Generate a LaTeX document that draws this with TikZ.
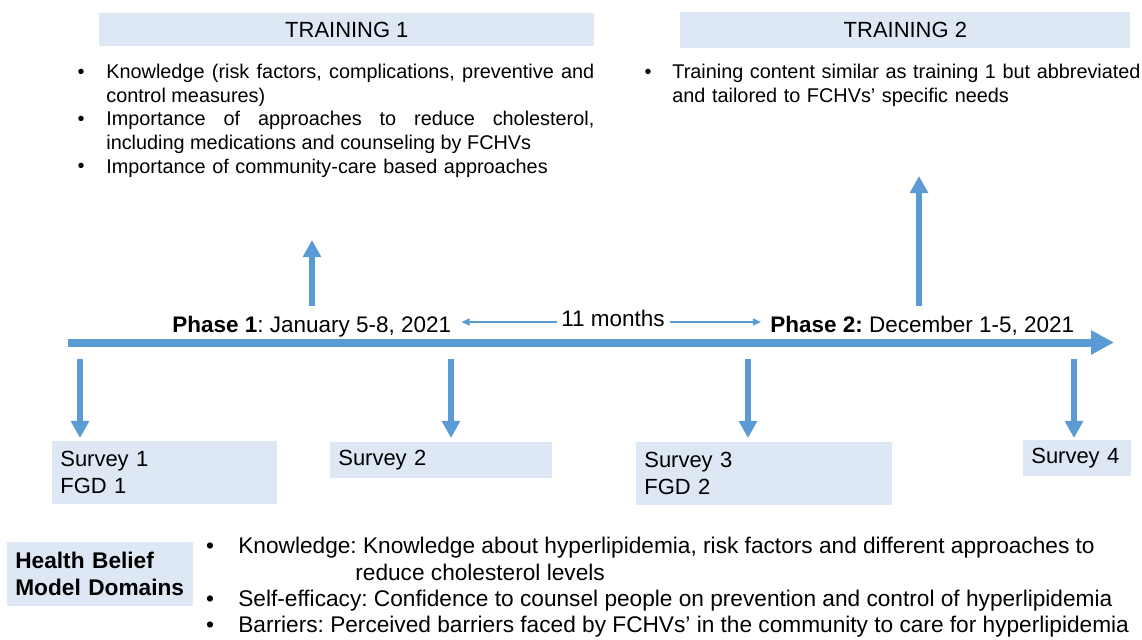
\documentclass[tikz,border=0pt]{standalone}
\usepackage{fontspec}
\setmainfont{Liberation Sans}
\usetikzlibrary{arrows.meta}
\definecolor{lineblue}{RGB}{91,155,213}
\definecolor{boxblue}{RGB}{221,232,244}
\newdimen\unitpx \unitpx=0.02cm
\hbadness=10000
\frenchspacing

\begin{document}
\begin{tikzpicture}[x=0.02cm, y=-0.02cm]

      \tikzset{panel/.style={fill=boxblue, inner sep=0pt, anchor=north west},
               header/.style={panel, font=\fontsize{12.5}{15}\selectfont},
               survey/.style={panel, font=\fontsize{12.5}{15.4}\selectfont, align=left, inner xsep=8\unitpx},
               itemtext/.style={font=\fontsize{11.3}{13.5}\selectfont, inner sep=0pt, anchor=north west},
               bulletdot/.style={font=\fontsize{11.3}{13.5}\selectfont, inner sep=0pt, anchor=base},
               phasetext/.style={font=\fontsize{12.8}{15.4}\selectfont, inner sep=0pt, anchor=base west},
               hbmtext/.style={font=\fontsize{12.9}{15.4}\selectfont, inner sep=0pt, anchor=base west},
               % arrow sizes: 1px of the layout is 0.569pt
               mainarrow/.style={-{Triangle[width=13.1pt, length=13.1pt]}, line width=4.55pt, lineblue},
               bigarrow/.style={-{Triangle[width=10pt, length=9.7pt]}, line width=3.7pt, lineblue},
               thinarrow/.style={-{Triangle[width=4pt, length=4.6pt]}, line width=0.9pt, lineblue}}
      \useasboundingbox (0,0) rectangle (1142,639);
%% Trainings
      	\node[header, minimum width=495\unitpx, minimum height=33\unitpx] (tr1) at (99,13) {TRAINING 1};
      	\node[header, minimum width=450\unitpx, minimum height=36\unitpx] (tr2) at (680,12) {TRAINING 2};

      	\node[bulletdot] (b11) at (81,78) {\textbullet};
      	\node[bulletdot] (b12) at (81,125.4) {\textbullet};
      	\node[bulletdot] (b13) at (81,172.8) {\textbullet};
      	\node[itemtext, text width=488\unitpx, align=justify] (k11) at (106,61.4)
      	  {\strut Knowledge (risk factors, complications, preventive and\linebreak control measures)};
      	\node[itemtext, text width=488\unitpx, align=justify] (k12) at (106,108.8)
      	  {\strut Importance of approaches to reduce cholesterol,\linebreak including medications and counseling by FCHVs};
      	\node[itemtext, text width=488\unitpx, align=left] (k13) at (106,156.2)
      	  {\strut Importance of community-care based approaches};

      	\node[bulletdot] (b21) at (648,78) {\textbullet};
      	\node[itemtext, text width=470\unitpx, align=left] (k21) at (672,61.4)
      	  {\strut Training content similar as training 1 but abbreviated\\ and tailored to FCHVs’ specific needs};
%% Timeline
      	\coordinate (tl0) at (68,342.5);
      	\coordinate (tl1) at (1114,342.5);
      	\coordinate (row) at (0,322);
      	\node[phasetext] (ph1) at (172,332) {\textbf{Phase 1}: January 5-8, 2021};
      	\node[phasetext] (mon) at (561,326) {11 months};
      	\node[phasetext] (ph2) at (770,332) {\textbf{Phase 2:} December 1-5, 2021};

		\draw[mainarrow] (tl0) -- (tl1);
		\draw[thinarrow, shorten <=4\unitpx, shorten >=10\unitpx] (mon.west |- row) -- (ph1.east |- row);
		\draw[thinarrow, shorten <=5\unitpx, shorten >=9\unitpx] (mon.east |- row) -- (ph2.west |- row);

      	\coordinate (up1) at (312,306);
      	\coordinate (up1end) at (312,240);
      	\coordinate (up2) at (919,306);
      	\coordinate (up2end) at (919,176);
		\draw[bigarrow] (up1) -- (up1end);
		\draw[bigarrow] (up2) -- (up2end);
%% Surveys
      	\node[survey, text width=209\unitpx, minimum height=63\unitpx] (s1) at (52,441) {Survey 1\\FGD 1};
      	\node[survey, text width=206\unitpx, minimum height=36\unitpx] (s2) at (330,442) {Survey 2};
      	\node[survey, text width=240\unitpx, minimum height=63\unitpx] (s3) at (636,442) {Survey 3\\FGD 2};
      	\node[survey, text width=92\unitpx, minimum height=36\unitpx] (s4) at (1023,440) {Survey 4};

      	\coordinate (d1) at (80,359);
      	\coordinate (d2) at (451,359);
      	\coordinate (d3) at (748,359);
      	\coordinate (d4) at (1074,359);
		\draw[bigarrow, shorten >=3\unitpx] (d1) -- (d1 |- s1.north);
		\draw[bigarrow, shorten >=4\unitpx] (d2) -- (d2 |- s2.north);
		\draw[bigarrow, shorten >=4\unitpx] (d3) -- (d3 |- s3.north);
		\draw[bigarrow, shorten >=2\unitpx] (d4) -- (d4 |- s4.north);
%% Health Belief Model
      	\node[panel, font=\fontsize{12.9}{15.4}\selectfont\bfseries, align=left, inner xsep=8\unitpx,
      	  text width=170\unitpx, minimum height=64\unitpx] (hbm) at (7,542) {Health Belief\\Model Domains};

      	\node[hbmtext, anchor=base] (c1) at (210,553) {\textbullet};
      	\node[hbmtext, anchor=base] (c2) at (210,606) {\textbullet};
      	\node[hbmtext, anchor=base] (c3) at (210,632) {\textbullet};
      	\node[hbmtext] (know) at (238,553) {Knowledge: Knowledge about hyperlipidemia, risk factors and different approaches to};
      	\node[hbmtext] (know2) at (355,580) {reduce cholesterol levels};
      	\node[hbmtext] (self) at (238,606) {Self-efficacy: Confidence to counsel people on prevention and control of hyperlipidemia};
      	\node[hbmtext] (barr) at (238,632) {Barriers: Perceived barriers faced by FCHVs’ in the community to care for hyperlipidemia};

	\end{tikzpicture}
\end{document}
